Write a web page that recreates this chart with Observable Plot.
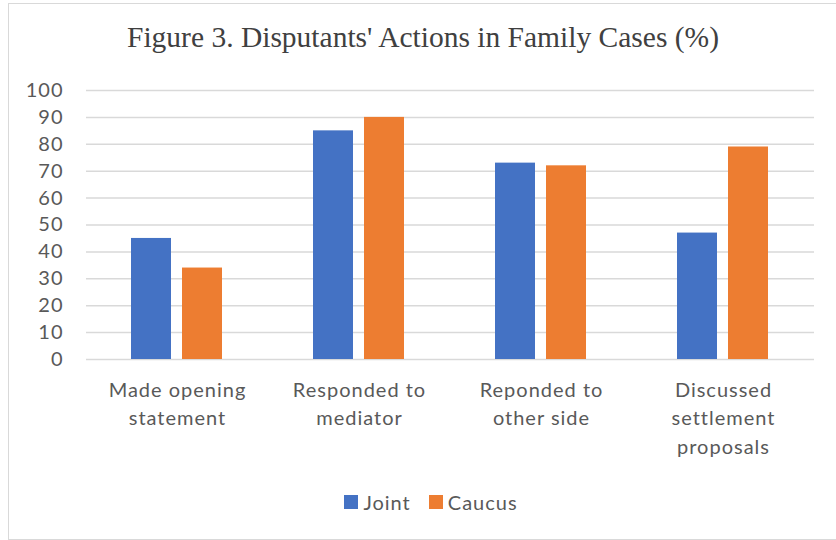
<!DOCTYPE html>
<html>
<head>
<meta charset="utf-8">
<script src="https://cdn.jsdelivr.net/npm/d3@7"></script>
<script src="https://cdn.jsdelivr.net/npm/@observablehq/plot@0.6"></script>
<style>
  html, body { margin: 0; padding: 0; background: #fff; }
  #wrap { position: relative; width: 836px; height: 540px; overflow: hidden; }
  #frame { position: absolute; left: 8px; top: 3px; width: 900px; height: 537px; border: 1px solid #d9d9d9; box-sizing: border-box; }
  #title { position: absolute; left: 0; width: 846px; top: 21px; text-align: center; font-family: "Liberation Serif", serif; font-size: 29.5px; color: #404040; }
  #chart { position: absolute; left: 0; top: 0; }
  #legend { position: absolute; left: 0; width: 862px; top: 489px; text-align: center; font-family: Lato, sans-serif; font-size: 20px; letter-spacing: 1px; color: #595959; }
  #legend span.item { display: inline-flex; align-items: center; margin: 0 9px; }
  #legend span.sw { display: inline-block; width: 14px; height: 14px; margin-right: 5px; }
</style>
</head>
<body>
<div id="wrap">
  <div id="frame"></div>
  <div id="chart"></div>
  <div id="title">Figure 3. Disputants' Actions in Family Cases (%)</div>
  <div id="legend"></div>
</div>
<script>
const categories = ["Made opening\nstatement", "Responded to\nmediator", "Reponded to\nother side", "Discussed\nsettlement\nproposals"];
const series = ["Joint", "Caucus"];
const jointValues = [45, 85, 73, 47];
const caucusValues = [34, 90, 72, 79];
const yTicks = [0, 10, 20, 30, 40, 50, 60, 70, 80, 90, 100];
const colors = ["#4472C4", "#ED7D31"];

const data = [];
categories.forEach((c, i) => {
  data.push({category: c, series: "Joint", value: jointValues[i]});
  data.push({category: c, series: "Caucus", value: caucusValues[i]});
});

const plot = Plot.plot({
  width: 836,
  height: 470,
  marginLeft: 85,
  marginRight: 21,
  marginTop: 90,
  marginBottom: 111,
  style: {fontFamily: "Lato, sans-serif", fontSize: "20px", letterSpacing: "1px", color: "#595959", background: "transparent", overflow: "visible"},
  fx: {domain: categories, padding: 0, label: null},
  x: {domain: series, paddingInner: 0.21, paddingOuter: 0.86, axis: null},
  y: {domain: [0, 100], label: null},
  color: {domain: series, range: colors},
  marks: [
    Plot.ruleY(yTicks, {stroke: "#d9d9d9", strokeWidth: 1.5}),
    Plot.barY(data, {fx: "category", x: "series", y: "value", fill: "series"}),
    Plot.axisY(yTicks, {tickSize: 0, tickPadding: 23, fontSize: 20, fill: "#595959", label: null}),
    Plot.axisFx({anchor: "bottom", tickSize: 0, tickPadding: 17, fontSize: 20, fill: "#595959", lineHeight: 1.43, label: null})
  ]
});
document.getElementById("chart").appendChild(plot);

const legend = document.getElementById("legend");
series.forEach((s, i) => {
  const item = document.createElement("span");
  item.className = "item";
  const sw = document.createElement("span");
  sw.className = "sw";
  sw.style.background = colors[i];
  item.appendChild(sw);
  item.appendChild(document.createTextNode(s));
  legend.appendChild(item);
});
</script>
</body>
</html>
